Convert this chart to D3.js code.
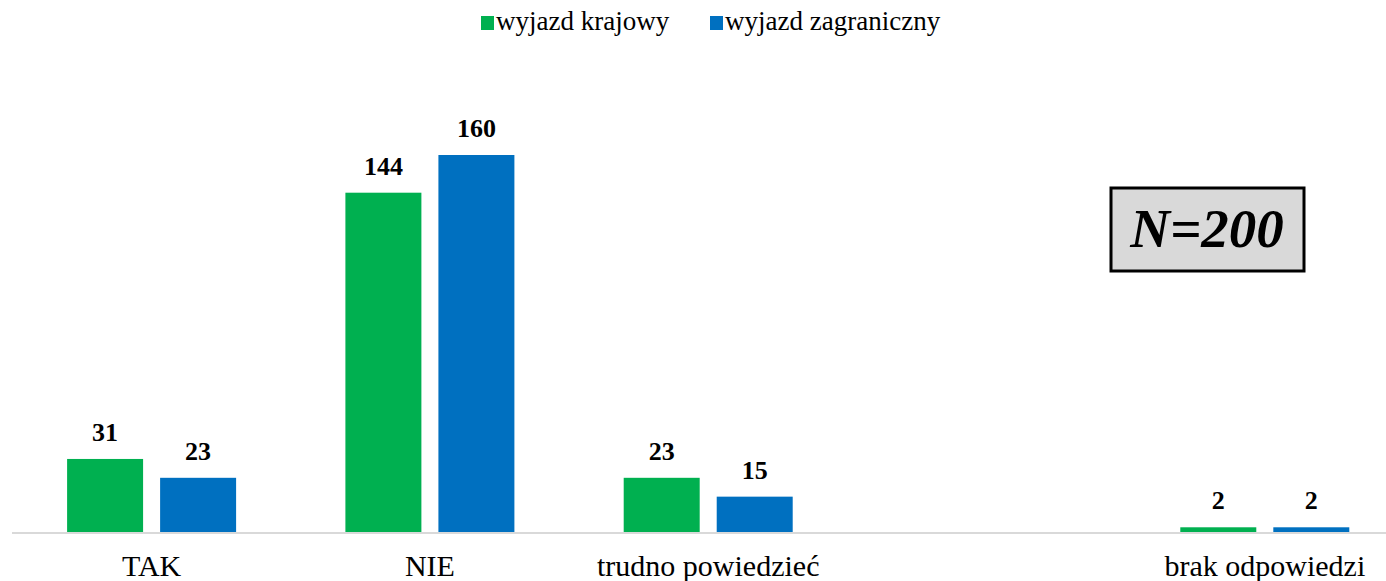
<!DOCTYPE html>
<html>
<head>
<meta charset="utf-8">
<script src="https://cdn.jsdelivr.net/npm/d3@7"></script>
<style>
  body { margin: 0; background: #fff; }
  svg { display: block; font-family: "Liberation Serif", "DejaVu Serif", serif; }
</style>
</head>
<body>
<div id="chart"></div>
<script>
const categories = ["TAK", "NIE", "trudno powiedzieć", "", "brak odpowiedzi"];
const series = ["wyjazd krajowy", "wyjazd zagraniczny"];
const krajowy = [31, 144, 23, null, 2];
const zagraniczny = [23, 160, 15, null, 2];
const colors = ["#00b050", "#0070c0"];
const sampleNote = "N=200";

const width = 1386, height = 581;
const baseY = 532;

const svg = d3.select("#chart").append("svg")
    .attr("width", width)
    .attr("height", height);

// one band per category, last one runs past the right edge like the original
const x0 = d3.scaleBand()
    .domain(categories)
    .range([12.5, 12.5 + 5 * 278.3]);

const x1 = d3.scaleBand()
    .domain(series)
    .range([54.6, 54.6 + 169])
    .paddingInner(0.183);

const y = d3.scaleLinear()
    .domain([0, 160])
    .range([baseY, 155]);

const rows = categories.map((c, i) => ({cat: c, values: [krajowy[i], zagraniczny[i]]}));

// baseline
svg.append("line")
    .attr("x1", 12).attr("x2", width)
    .attr("y1", baseY + 1).attr("y2", baseY + 1)
    .attr("stroke", "#d9d9d9").attr("stroke-width", 2);

const groups = svg.selectAll(".cat")
    .data(rows)
    .join("g")
    .attr("class", "cat")
    .attr("transform", d => "translate(" + x0(d.cat) + ",0)");

groups.selectAll("rect")
    .data(d => d.values.map((v, j) => ({s: series[j], v: v, j: j})).filter(d => d.v != null))
    .join("rect")
    .attr("x", d => x1(d.s))
    .attr("y", d => y(d.v))
    .attr("width", x1.bandwidth())
    .attr("height", d => baseY - y(d.v))
    .attr("fill", d => colors[d.j]);

groups.selectAll("text.val")
    .data(d => d.values.map((v, j) => ({s: series[j], v: v})).filter(d => d.v != null))
    .join("text")
    .attr("class", "val")
    .attr("x", d => x1(d.s) + x1.bandwidth() / 2)
    .attr("y", d => y(d.v) - 18)
    .attr("text-anchor", "middle")
    .attr("font-size", 26)
    .attr("font-weight", "bold")
    .attr("fill", "#000")
    .text(d => d.v);

// category labels
svg.append("g").selectAll("text")
    .data(categories)
    .join("text")
    .attr("x", d => x0(d) + x0.bandwidth() / 2)
    .attr("y", 576)
    .attr("text-anchor", "middle")
    .attr("font-size", 30)
    .attr("fill", "#000")
    .text(d => d);

// legend
const legend = svg.append("g");
const legX = [481, 710];
series.forEach((s, i) => {
    legend.append("rect")
        .attr("x", legX[i]).attr("y", 16)
        .attr("width", 13).attr("height", 14)
        .attr("fill", colors[i]);
    legend.append("text")
        .attr("x", legX[i] + 15).attr("y", 30)
        .attr("font-size", 27)
        .attr("fill", "#000")
        .text(s);
});

// N box
svg.append("rect")
    .attr("x", 1111).attr("y", 188)
    .attr("width", 193).attr("height", 83)
    .attr("fill", "#d9d9d9")
    .attr("stroke", "#000").attr("stroke-width", 3);
svg.append("text")
    .attr("x", 1207).attr("y", 247)
    .attr("text-anchor", "middle")
    .attr("font-size", 55)
    .attr("font-weight", "bold")
    .attr("font-style", "italic")
    .attr("fill", "#000")
    .text(sampleNote);
</script>
</body>
</html>
